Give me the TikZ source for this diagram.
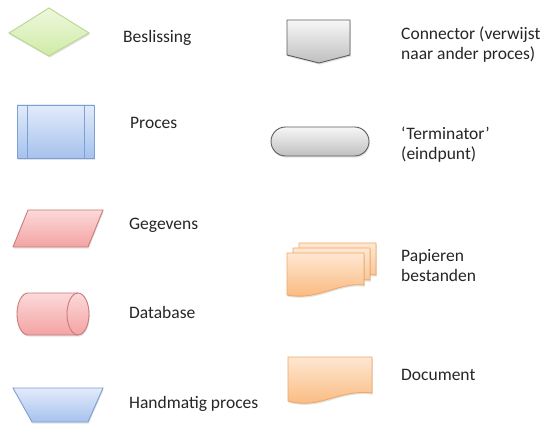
\documentclass[tikz,border=0pt]{standalone}
\usepackage{fontspec}
\setmainfont{Carlito}
\usetikzlibrary{shadows}
\definecolor{txt}{HTML}{262626}
\definecolor{grnT}{HTML}{EEF8DE}\definecolor{grnB}{HTML}{CFEBA6}\definecolor{grnD}{HTML}{B9D68E}
\definecolor{bluT}{HTML}{E2EBFA}\definecolor{bluB}{HTML}{A6C2EE}\definecolor{bluD}{HTML}{7E9FD3}
\definecolor{pnkT}{HTML}{FCD9D9}\definecolor{pnkB}{HTML}{F4A3A3}\definecolor{pnkD}{HTML}{C97B7B}
\definecolor{gryT}{HTML}{F7F7F7}\definecolor{gryB}{HTML}{BFBFBF}\definecolor{gryD}{HTML}{5E5E5E}
\definecolor{orgT}{HTML}{FEE7D2}\definecolor{orgB}{HTML}{FAB678}\definecolor{orgD}{HTML}{EFA868}
\tikzset{
  shad/.style={drop shadow={opacity=0.22,shadow xshift=0.8pt,shadow yshift=-1.6pt}},
  greenshape/.style={draw=grnD,line width=0.9pt,top color=grnT,bottom color=grnB,shad},
  blueshape/.style={draw=bluD,line width=0.9pt,top color=bluT,bottom color=bluB,shad},
  pinkshape/.style={draw=pnkD,line width=0.9pt,top color=pnkT,bottom color=pnkB,shad},
  grayshape/.style={draw=gryD,line width=0.9pt,top color=gryT,bottom color=gryB,shad},
  orangeshape/.style={draw=orgD,line width=0.9pt,top color=orgT,bottom color=orgB,shad},
  lbl/.style={anchor=west,inner sep=0pt,align=left,text=txt,font=\fontsize{17.5}{20}\selectfont}
}
\begin{document}
\begin{tikzpicture}[x=1pt,y=-1pt]
\useasboundingbox[fill=white] (0,0) rectangle (545,435);
% Beslissing (diamond)
\path[greenshape] (9,33) -- (49,8) -- (89,33) -- (49,56) -- cycle;
\node[lbl] (beslissing) at (123,38) {Beslissing};
% Proces
\path[blueshape] (17,105) rectangle (94,158);
\draw[bluD,line width=0.9pt] (27,105) -- (27,158) (84,105) -- (84,158);
\node[lbl] (proces) at (130,123) {Proces};
% Gegevens
\path[pinkshape] (28,210) -- (103,210) -- (88,247) -- (13,247) -- cycle;
\node[lbl] (gegevens) at (129,225) {Gegevens};
% Database
\path[pinkshape] (28,293) -- (78,293) arc[start angle=-90,end angle=90,x radius=11,y radius=21]
   -- (28,335) arc[start angle=90,end angle=270,x radius=11,y radius=21] -- cycle;
\draw[pnkD,line width=0.9pt] (78,293) arc[start angle=270,end angle=90,x radius=11,y radius=21];
\node[lbl] (database) at (129,312) {Database};
% Handmatig proces
\path[blueshape] (13,388) -- (103,388) -- (88,422) -- (32,422) -- cycle;
\node[lbl] (handmatig) at (129,404) {Handmatig proces};
% Connector
\path[grayshape] (287,20) -- (350,20) -- (350,55) -- (319,63) -- (287,55) -- cycle;
\node[lbl] (connector) at (401,45) {Connector (verwijst\\naar ander proces)};
% Terminator
\path[grayshape,rounded corners=14.5pt] (271,127) rectangle (369,156);
\node[lbl] (terminator) at (401,145) {‘Terminator’\\(eindpunt)};
% Papieren bestanden
\foreach \dx/\dy in {12/-10,6/-5,0/0}{
  \path[orangeshape,shift={(\dx,\dy)}] (287,253) -- (364,253) -- (364,285)
     .. controls (338,282) and (318,301) .. (287,295) -- cycle;
}
\node[lbl] (papieren) at (401,266) {Papieren\\bestanden};
% Document
\path[orangeshape] (288,357) -- (372,357) -- (372,393)
   .. controls (338,389) and (320,410) .. (288,401) -- cycle;
\node[lbl] (document) at (401,375) {Document};
\end{tikzpicture}
\end{document}
